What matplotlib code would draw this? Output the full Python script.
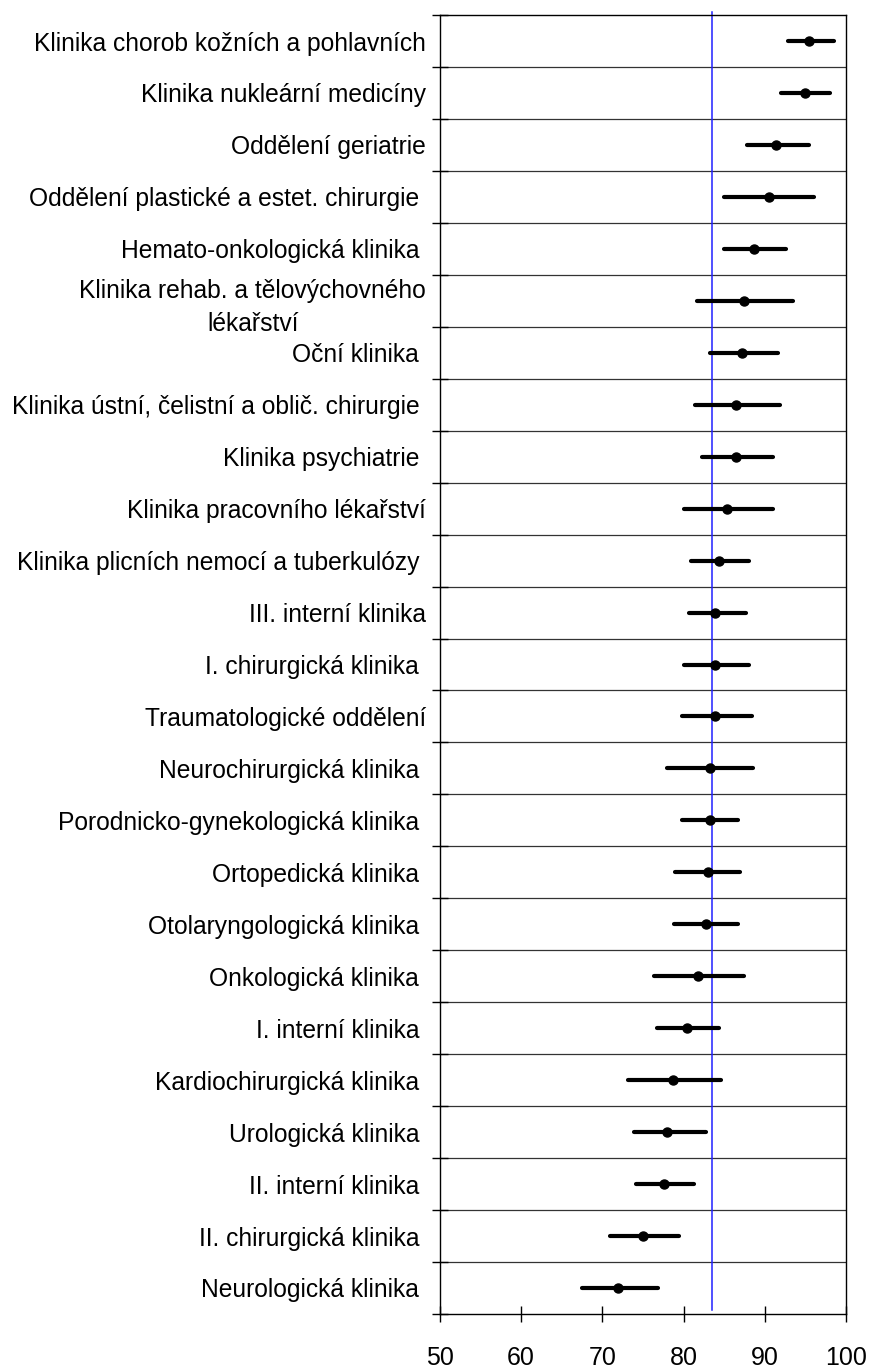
import numpy as np
import matplotlib
matplotlib.use('Agg')
from matplotlib import pyplot as plt
from matplotlib.ticker import FixedLocator, NullFormatter

plt.rcParams['font.family'] = ['Liberation Sans', 'DejaVu Sans']

# clinics, top to bottom (trailing space kept where the source had it)
clinics = [
    "Klinika chorob kožních a pohlavních",
    "Klinika nukleární medicíny",
    "Oddělení geriatrie",
    "Oddělení plastické a estet. chirurgie ",
    "Hemato-onkologická klinika ",
    "Klinika rehab. a tělovýchovného\nlékařství",
    "Oční klinika ",
    "Klinika ústní, čelistní a oblič. chirurgie ",
    "Klinika psychiatrie ",
    "Klinika pracovního lékařství",
    "Klinika plicních nemocí a tuberkulózy ",
    "III. interní klinika",
    "I. chirurgická klinika ",
    "Traumatologické oddělení",
    "Neurochirurgická klinika ",
    "Porodnicko-gynekologická klinika ",
    "Ortopedická klinika ",
    "Otolaryngologická klinika ",
    "Onkologická klinika ",
    "I. interní klinika ",
    "Kardiochirurgická klinika ",
    "Urologická klinika ",
    "II. interní klinika ",
    "II. chirurgická klinika ",
    "Neurologická klinika ",
]
means = [95.4, 94.9, 91.4, 90.5, 88.7, 87.5, 87.2, 86.5, 86.5, 85.3,
         84.4, 83.9, 83.9, 83.9, 83.2, 83.2, 83.0, 82.7, 81.8, 80.4,
         78.7, 78.0, 77.6, 75.0, 71.9]
lower = [92.9, 92.0, 87.8, 85.0, 85.0, 81.7, 83.3, 81.4, 82.3, 80.0,
         80.9, 80.7, 80.0, 79.8, 77.9, 79.8, 79.0, 78.8, 76.3, 76.7,
         73.2, 73.9, 74.1, 71.0, 67.5]
upper = [98.5, 98.0, 95.4, 96.1, 92.6, 93.5, 91.6, 91.9, 91.0, 91.0,
         88.1, 87.7, 88.1, 88.4, 88.6, 86.7, 86.9, 86.7, 87.4, 84.4,
         84.6, 82.7, 81.3, 79.4, 76.8]
overall_mean = 83.5
x_ticks = [50, 60, 70, 80, 90, 100]

n = len(clinics)
rows = np.arange(n) + 0.5

fig = plt.figure(figsize=(8.7, 13.69), dpi=100)
ax = fig.add_axes([0.5057, 0.0402, 0.4667, 0.9488])

# row separators
for b in range(1, n):
    ax.axhline(b, color='#333333', lw=0.9, zorder=1)

# confidence intervals and means
ci = ax.hlines(rows, lower, upper, color='black', lw=3.0, zorder=3)
ci.set_capstyle('round')
ax.plot(means, rows, 'o', color='black', markersize=6.5, zorder=4)

ax.axvline(overall_mean, ymin=0.003, ymax=1.0025, color='#2020ff',
           lw=1.1, zorder=2, clip_on=False)

ax.set_xlim(50, 100)
ax.set_ylim(n, 0)
ax.set_xticks(x_ticks)
ax.set_xticklabels([str(t) for t in x_ticks])

ax.yaxis.set_major_locator(FixedLocator(np.arange(n + 1)))
ax.yaxis.set_major_formatter(NullFormatter())
ax.yaxis.set_minor_locator(FixedLocator(rows))
ax.set_yticklabels(clinics, minor=True, multialignment='center',
                   linespacing=1.45)

ax.tick_params(axis='y', which='major', direction='inout', length=11, width=1)
ax.tick_params(axis='y', which='minor', length=0, pad=10, labelsize=17.7)
ax.tick_params(axis='x', direction='inout', length=11.5, width=1,
               pad=17, labelsize=18)

for sp in ax.spines.values():
    sp.set_linewidth(1.0)
    sp.set_color('black')

plt.savefig('out.png', dpi=100)
plt.close(fig)
